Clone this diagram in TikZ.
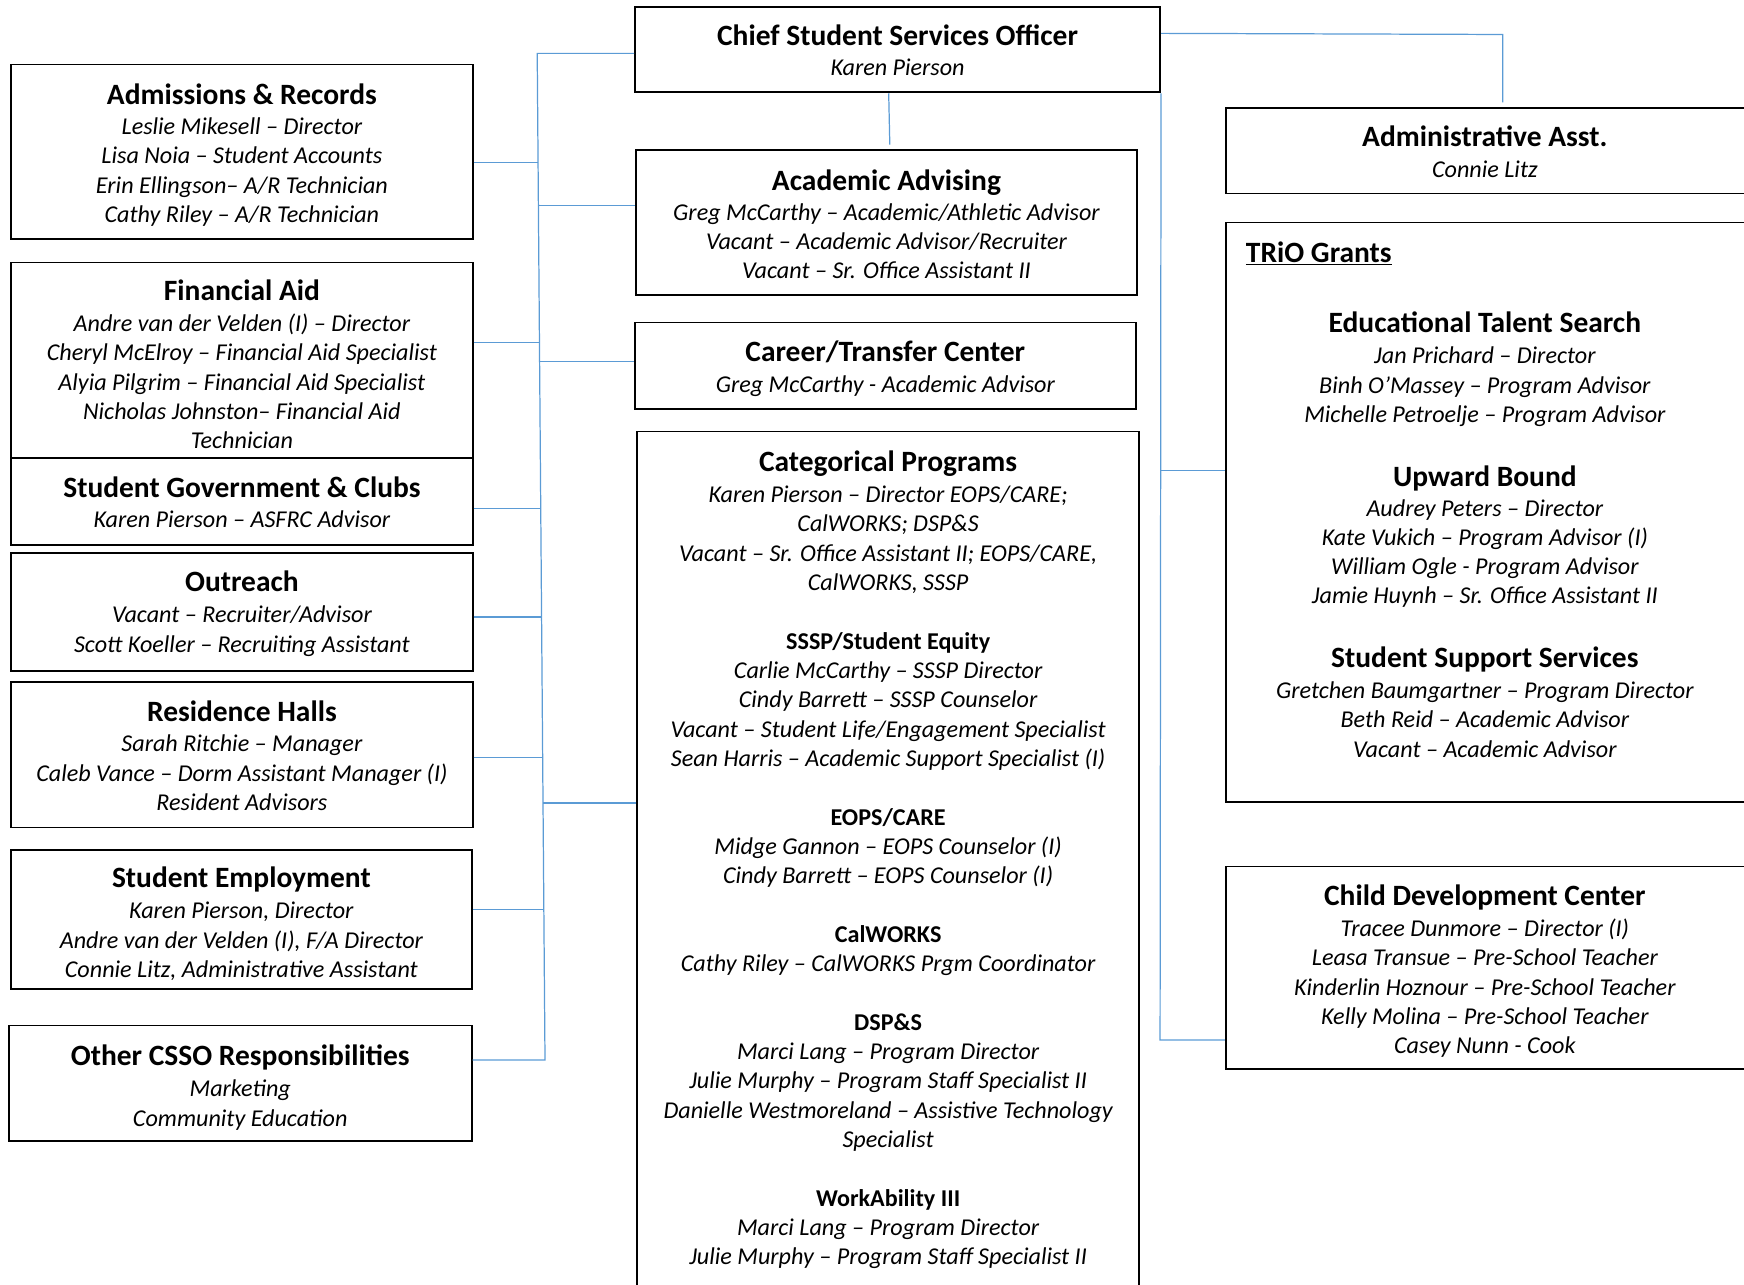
\documentclass[tikz,border=0pt]{standalone}
\usepackage{fontspec}
\setmainfont{Carlito}
\usetikzlibrary{fit}
\definecolor{connblue}{RGB}{91,155,213}
\begin{document}
\begin{tikzpicture}[x=1pt,y=-1pt,
 box/.style={draw=black,line width=1.7pt,inner sep=0pt},
 conn/.style={draw=connblue,line width=1.1pt},
 ttl/.style={anchor=base,inner sep=0pt,yshift=-1pt,font=\fontsize{26.5}{30}\selectfont\bfseries},
 bdy/.style={anchor=base,inner sep=0pt,yshift=-1pt,align=center,font=\fontsize{21.7}{26.35}\selectfont\itshape}]
\useasboundingbox (0,0) rectangle (1568,1155);
\clip (0,0) rectangle (1568,1155);
% boxes
\node[box,fit={(10,58) (425,215)}] (adm) {};
\node[box,fit={(10,236) (425,412)}] (fin) {};
\node[box,fit={(10,412) (425,490)}] (sg) {};
\node[box,fit={(10,497) (425,603)}] (out) {};
\node[box,fit={(10,613) (425,744)}] (res) {};
\node[box,fit={(10,764) (424,889)}] (emp) {};
\node[box,fit={(8,922) (424,1026)}] (oth) {};
\node[box,fit={(571,6) (1043,83)}] (chief) {};
\node[box,fit={(572,135) (1022,265)}] (adv) {};
\node[box,fit={(571,290) (1021,368)}] (car) {};
\node[box,fit={(573,388) (1024,1180)}] (cat) {};
\node[box,fit={(1102,97) (1580,174)}] (admin) {};
\node[box,fit={(1102,200) (1580,721)}] (trio) {};
\node[box,fit={(1102,779) (1580,961)}] (cdc) {};
% left trunk
\coordinate (tl) at (483,48);
\coordinate (tb) at (490,953);
\coordinate (jadm) at (483.8,146);
\coordinate (jadv) at (484.1,185);
\coordinate (jfin) at (485,308);
\coordinate (jcar) at (485.1,325);
\coordinate (jsg) at (486.2,457);
\coordinate (jout) at (486.9,555);
\coordinate (jres) at (487.9,681);
\coordinate (jcat) at (488.2,722);
\coordinate (jemp) at (489,818);
\draw[conn] (chief.west |- tl) -- (tl) -- (tb) -- (oth.east |- tb);
\draw[conn] (adm.east |- jadm) -- (jadm);
\draw[conn] (jadv) -- (adv.west |- jadv);
\draw[conn] (fin.east |- jfin) -- (jfin);
\draw[conn] (jcar) -- (car.west |- jcar);
\draw[conn] (sg.east |- jsg) -- (jsg);
\draw[conn,line width=1.6pt] (out.east |- jout) -- (jout);
\draw[conn] (res.east |- jres) -- (jres);
\draw[conn] (jcat) -- (cat.west |- jcat);
\draw[conn] (emp.east |- jemp) -- (jemp);
% chief to advising
\coordinate (advtop) at (800,130);
\draw[conn] (chief.south -| 799,0) -- (advtop);
% right trunk
\coordinate (rb) at (1043,935);
\coordinate (jtrio) at (1043,423);
\draw[conn] (chief.south east) -- (rb) -- (cdc.west |- rb);
\draw[conn] (jtrio) -- (trio.west |- jtrio);
\coordinate (adtop) at (1351,92);
\draw[conn] (chief.east |- 0,30) -- (adtop |- 0,31) -- (adtop);
% texts left (body nodes are placed at the baseline of their last line)
\node[ttl] (adm-t) at (217.5,93) {Admissions \& Records};
\node[bdy] (adm-b) at (217.5,199) {Leslie Mikesell – Director\\Lisa Noia – Student Accounts\\Erin Ellingson– A/R Technician\\Cathy Riley – A/R Technician};
\node[ttl] (fin-t) at (217.5,269) {Financial Aid};
\node[bdy] (fin-b) at (217.5,402.4) {Andre van der Velden (I) – Director\\Cheryl McElroy – Financial Aid Specialist\\Alyia Pilgrim – Financial Aid Specialist\\Nicholas Johnston– Financial Aid\\Technician};
\node[ttl] (sg-t) at (217.5,446) {Student Government \& Clubs};
\node[bdy] (sg-b) at (217.5,473) {Karen Pierson – ASFRC Advisor};
\node[ttl] (out-t) at (217.5,531) {Outreach};
\node[bdy] (out-b) at (217.5,585.4) {Vacant – Recruiter/Advisor\\Scott Koeller – Recruiting Assistant};
\node[ttl] (res-t) at (217.5,648) {Residence Halls};
\node[bdy] (res-b) at (217.5,727.7) {Sarah Ritchie – Manager\\Caleb Vance – Dorm Assistant Manager (I)\\Resident Advisors};
\node[ttl] (emp-t) at (217,797) {Student Employment};
\node[bdy] (emp-b) at (217,877.7) {Karen Pierson, Director\\Andre van der Velden (I), F/A Director\\Connie Litz, Administrative Assistant};
\node[ttl] (oth-t) at (216,957) {Other CSSO Responsibilities};
\node[bdy] (oth-b) at (216,1011.4) {Marketing\\Community Education};
% texts centre
\node[ttl] (chief-t) at (807,40) {Chief Student Services Officer};
\node[bdy] (chief-b) at (807,67) {Karen Pierson};
\node[ttl] (adv-t) at (797,170) {Academic Advising};
\node[bdy] (adv-b) at (797,249.7) {Greg McCarthy – Academic/Athletic Advisor\\Vacant – Academic Advisor/Recruiter\\Vacant – Sr. Office Assistant II};
\node[ttl] (car-t) at (796,324) {Career/Transfer Center};
\node[bdy] (car-b) at (796,352) {Greg McCarthy - Academic Advisor};
\node[ttl] (cat-t) at (798.5,423) {Categorical Programs};
\node[bdy] (cat-b) at (798.5,1136) {Karen Pierson – Director EOPS/CARE;\\CalWORKS; DSP\&S\\Vacant – Sr. Office Assistant II; EOPS/CARE,\\CalWORKS, SSSP\\[26.35pt]
{\bfseries\upshape SSSP/Student Equity}\\Carlie McCarthy – SSSP Director\\Cindy Barrett – SSSP Counselor\\Vacant – Student Life/Engagement Specialist\\Sean Harris – Academic Support Specialist (I)\\[26.35pt]
{\bfseries\upshape EOPS/CARE}\\Midge Gannon – EOPS Counselor (I)\\Cindy Barrett – EOPS Counselor (I)\\[26.35pt]
{\bfseries\upshape CalWORKS}\\Cathy Riley – CalWORKS Prgm Coordinator\\[26.35pt]
{\bfseries\upshape DSP\&S}\\Marci Lang – Program Director\\Julie Murphy – Program Staff Specialist II\\Danielle Westmoreland – Assistive Technology\\Specialist\\[26.35pt]
{\bfseries\upshape WorkAbility III}\\Marci Lang – Program Director\\Julie Murphy – Program Staff Specialist II};
% texts right
\node[ttl] (admin-t) at (1335,131) {Administrative Asst.};
\node[bdy] (admin-b) at (1335,159) {Connie Litz};
\node[ttl,anchor=base west] (trio-t) at (1120,235) {\underline{TRiO Grants}};
\node[ttl] (ets-t) at (1335,298) {Educational Talent Search};
\node[bdy] (ets-b) at (1335,378.7) {Jan Prichard – Director\\Binh O’Massey – Program Advisor\\Michelle Petroelje – Program Advisor};
\node[ttl] (ub-t) at (1335,436) {Upward Bound};
\node[bdy] (ub-b) at (1335,542) {Audrey Peters – Director\\Kate Vukich – Program Advisor (I)\\William Ogle - Program Advisor\\Jamie Huynh – Sr. Office Assistant II};
\node[ttl] (sss-t) at (1335,599) {Student Support Services};
\node[bdy] (sss-b) at (1335,679.7) {Gretchen Baumgartner – Program Director\\Beth Reid – Academic Advisor\\Vacant – Academic Advisor};
\node[ttl] (cdc-t) at (1335,813) {Child Development Center};
\node[bdy] (cdc-b) at (1335,946.4) {Tracee Dunmore – Director (I)\\Leasa Transue – Pre-School Teacher\\Kinderlin Hoznour – Pre-School Teacher\\Kelly Molina – Pre-School Teacher\\Casey Nunn - Cook};
\end{tikzpicture}
\end{document}
